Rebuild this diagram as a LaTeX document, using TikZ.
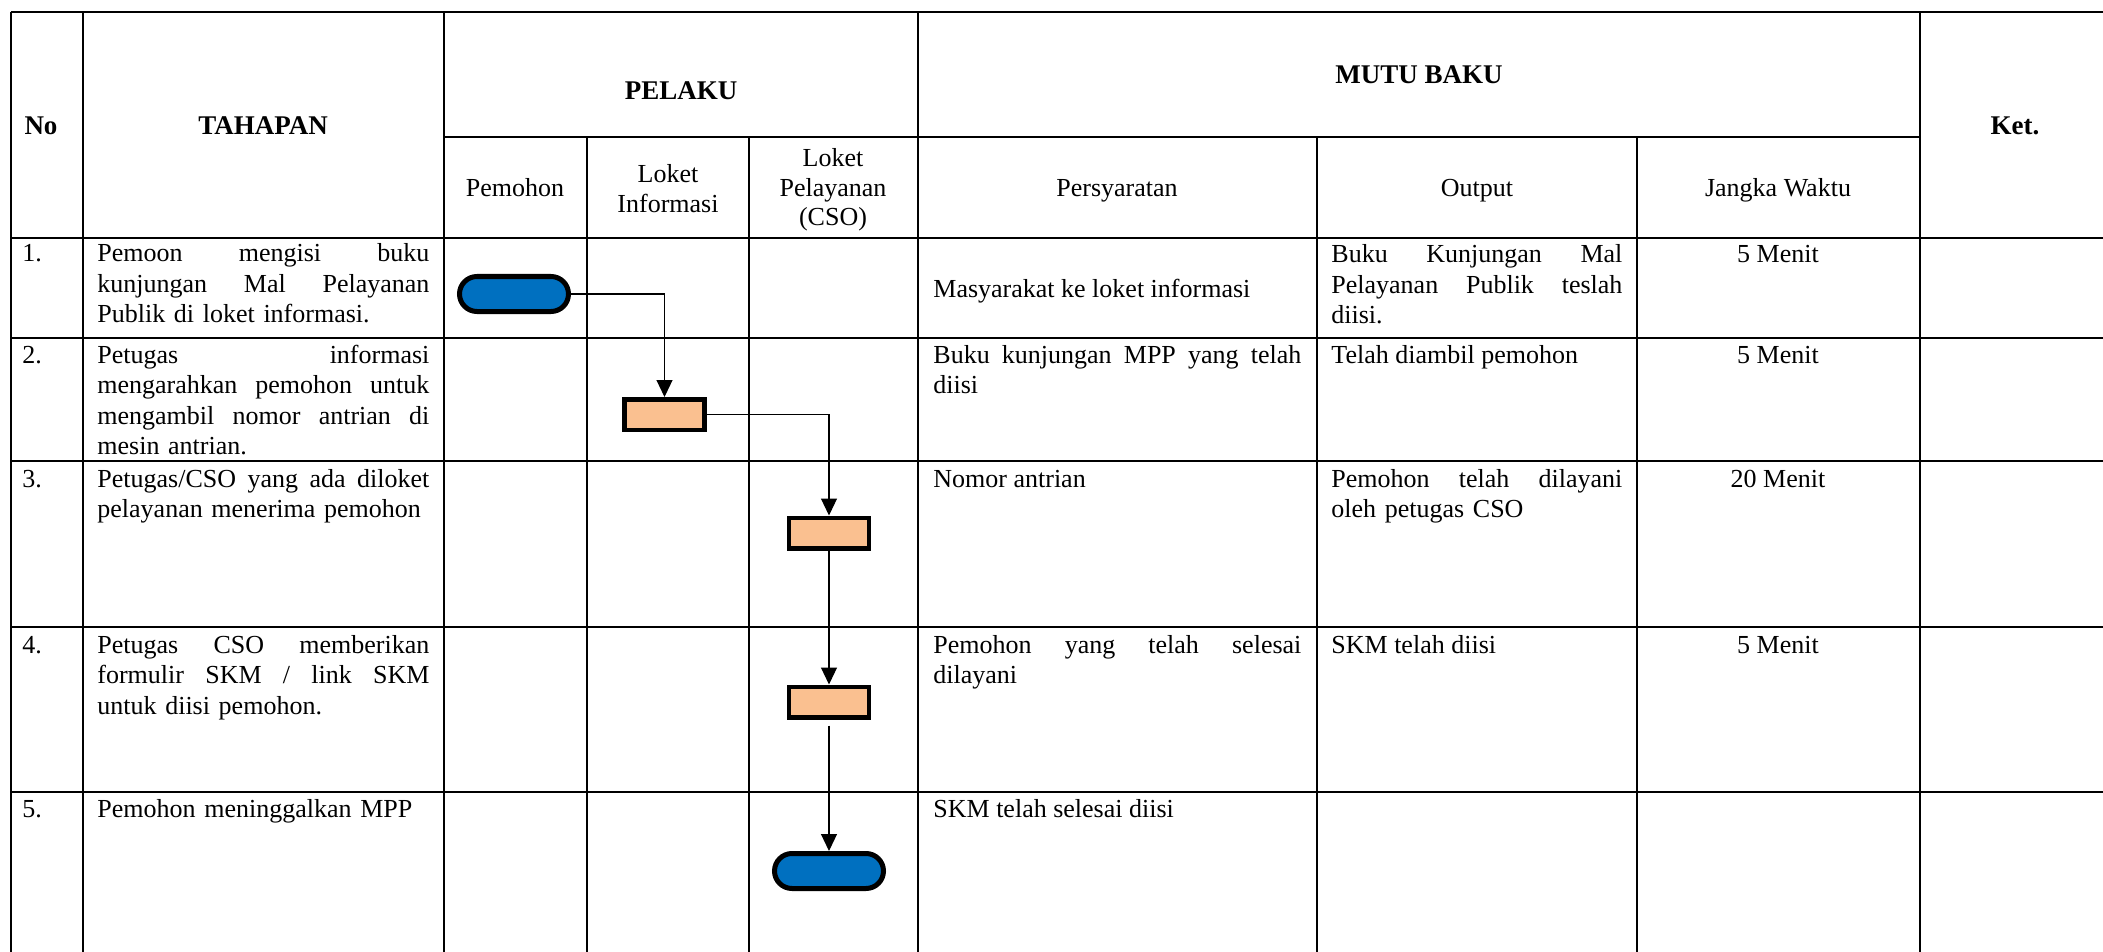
\documentclass[tikz,border=0pt]{standalone}
\usepackage{fontspec}
\setmainfont{Liberation Serif}
\usetikzlibrary{arrows.meta,shapes.misc,positioning}
\definecolor{birumpp}{HTML}{0070C0}
\definecolor{jingga}{HTML}{FAC090}
% one justified line: width, words
\newcommand{\rata}[2]{{\spaceskip=0.25em plus 1fil\relax\makebox[#1][s]{#2}}}
\tikzset{garis/.style={line width=1pt},
    terminal/.style={rounded rectangle,draw,line width=2.5pt,fill=birumpp,
        minimum width=54.5pt,minimum height=17.5pt,inner sep=0pt},
    proses/.style={rectangle,draw,line width=2.25pt,fill=jingga,
        minimum width=40pt,minimum height=15.25pt,inner sep=0pt},
    alur/.style={line width=0.6pt,-{Triangle[width=8pt,length=8.5pt]}},
    isi/.style={anchor=base west,inner sep=0pt,align=left,
        font=\fontsize{13}{15.25}\selectfont},
    waktu/.style={isi,anchor=base},
    judul/.style={anchor=base,inner sep=0pt,font=\bfseries\fontsize{13.5}{16}\selectfont},
    kolom/.style={anchor=base,inner sep=0pt,align=center,
        font=\fontsize{13}{14.75}\selectfont},
    }

\begin{document}
\begin{tikzpicture}[x=0.5pt,y=-0.5pt]
	\useasboundingbox (0,0) rectangle (2103,952);
	% grid of the table
	\foreach \y in {12,238,338,461,627,792}
		\draw[garis] (10.7,\y) -- (2103,\y);
	\draw[garis] (444,137) -- (1920,137);
	\foreach \x in {10.7,83,444,918,1920}
		\draw[garis] (\x,12) -- (\x,952);
	\foreach \x in {587,749,1317,1637}
		\draw[garis] (\x,137) -- (\x,952);
	% header
	\node[judul] (hNo) at (41,135) {No};
	\node[judul] (hTahap) at (263,135) {TAHAPAN};
	\node[judul] (hPelaku) at (681,100) {PELAKU};
	\node[judul] (hMutu) at (1419,84) {MUTU BAKU};
	\node[judul] (hKet) at (2015,135) {Ket.};
	\node[kolom] (hPemohon) at (515,197) {Pemohon};
	\node[kolom,text width=72pt] (hInfo) at (668,183) {Loket\\Informasi};
	\node[kolom,text width=76pt] (hCso) at (833,167) {Loket\\Pelayanan\\(CSO)};
	\node[kolom] (hSyarat) at (1117,197) {Persyaratan};
	\node[kolom] (hOutput) at (1477,197) {Output};
	\node[kolom] (hWaktu) at (1778,197) {Jangka Waktu};
	% nomor
	\node[isi] (n1) at (22,262) {1.};
	\node[isi] (n2) at (22,363) {2.};
	\node[isi] (n3) at (22,487) {3.};
	\node[isi] (n4) at (22,653) {4.};
	\node[isi] (n5) at (22,817) {5.};
	% tahapan
	\node[isi,text width=166pt] (t1) at (97,262)
		{\rata{166pt}{Pemoon mengisi buku}\\\rata{166pt}{kunjungan Mal Pelayanan}\\Publik di loket informasi.};
	\node[isi,text width=166pt] (t2) at (97,363)
		{\rata{166pt}{Petugas informasi}\\\rata{166pt}{mengarahkan pemohon untuk}\\\rata{166pt}{mengambil nomor antrian di}\\mesin antrian.};
	\node[isi,text width=166pt] (t3) at (97,487)
		{\rata{166pt}{Petugas/CSO yang ada diloket}\\pelayanan menerima pemohon};
	\node[isi,text width=166pt] (t4) at (97,653)
		{\rata{166pt}{Petugas CSO memberikan}\\\rata{166pt}{formulir SKM / link SKM}\\untuk diisi pemohon.};
	\node[isi,text width=166pt] (t5) at (97,817) {Pemohon meninggalkan MPP};
	% persyaratan
	\node[isi] (s1) at (933,297) {Masyarakat ke loket informasi};
	\node[isi,text width=184pt] (s2) at (933,363)
		{\rata{184pt}{Buku kunjungan MPP yang telah}\\diisi};
	\node[isi] (s3) at (933,487) {Nomor antrian};
	\node[isi,text width=184pt] (s4) at (933,653)
		{\rata{184pt}{Pemohon yang telah selesai}\\dilayani};
	\node[isi] (s5) at (933,817) {SKM telah selesai diisi};
	% output
	\node[isi,text width=145.5pt] (o1) at (1331,263)
		{\rata{145.5pt}{Buku Kunjungan Mal}\\\rata{145.5pt}{Pelayanan Publik teslah}\\diisi.};
	\node[isi] (o2) at (1331,363) {Telah diambil pemohon};
	\node[isi,text width=145.5pt] (o3) at (1331,487)
		{\rata{145.5pt}{Pemohon telah dilayani}\\oleh petugas CSO};
	\node[isi] (o4) at (1331,653) {SKM telah diisi};
	% jangka waktu
	\node[waktu] (w1) at (1778,263) {5 Menit};
	\node[waktu] (w2) at (1778,363) {5 Menit};
	\node[waktu] (w3) at (1778,487) {20 Menit};
	\node[waktu] (w4) at (1778,653) {5 Menit};
	% alur
	\node[terminal] (mulai) at (514,294) {};
	\node[proses] (info) at (664.5,414.5) {};
	\node[proses] (cso) at (829,533) {};
	\node[proses] (skm) at (829,702) {};
	\node[terminal] (selesai) at (829,871) {};
	\draw[alur] (mulai.east) -| (info.north);
	\draw[alur] (info.east) -| (cso.north);
	\draw[alur] (cso.south) -- (skm.north);
	\draw[alur,shorten <=3pt] (skm.south) -- (selesai.north);
\end{tikzpicture}
\end{document}
